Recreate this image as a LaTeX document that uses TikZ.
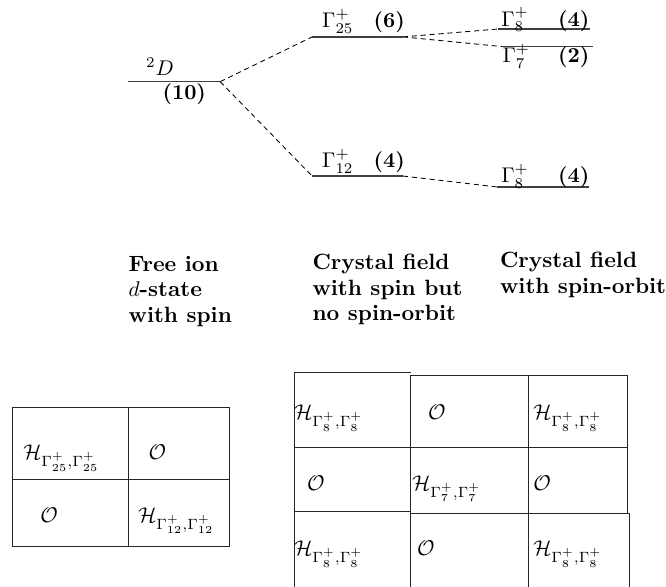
\documentclass[tikz,border=0pt]{standalone}
\usepackage{amsmath}
\usetikzlibrary{positioning}

\begin{document}
\begin{tikzpicture}[
      level/.style={black!75, semithick},
      split/.style={thin, dash pattern=on 2.4pt off 1.8pt},
      lbl/.style={anchor=base west, inner sep=0pt},
      title/.style={anchor=north west, inner sep=0pt, align=left,
         font=\fontsize{10.4}{12}\selectfont\bfseries},
      grid/.style={black!85, thin}]
            \useasboundingbox (0,0) rectangle (11.01,9.70);
            % Level end points
            \coordinate (D-l) at (2.12,8.35);   \coordinate (D-r) at (3.64,8.35);
            \coordinate (G25-l) at (5.16,9.09); \coordinate (G25-r) at (6.66,9.09);
            \coordinate (G12-l) at (5.16,6.79); \coordinate (G12-r) at (6.66,6.79);
            \coordinate (G8a-l) at (8.23,9.22); \coordinate (G8a-r) at (9.75,9.22);
            \coordinate (G7-l) at (8.30,8.93);  \coordinate (G7-r) at (9.80,8.93);
            \coordinate (G8b-l) at (8.21,6.61); \coordinate (G8b-r) at (9.74,6.61);
            % Levels
            \draw[level] (D-l) -- (D-r);
            \draw[level] (G25-l) -- (G25-r);
            \draw[level] (G12-l) -- (G12-r);
            \draw[level] (G8a-l) -- (G8a-r);
            \draw[level] (G7-l) -- (G7-r);
            \draw[level] (G8b-l) -- (G8b-r);
            % Splitting by the crystal field
            \draw[split] (D-r) -- (G25-l);
            \draw[split] (D-r) -- (G12-l);
            % Splitting by spin-orbit
            \draw[split] (G25-r) -- (G8a-l);
            \draw[split] (G25-r) -- (G7-l);
            \draw[split] (G12-r) -- (G8b-l);
            % Level labels
            \node[lbl] (D-name) at (2.41,8.45) {$^2D$};
            \node[lbl] (D-deg) at (2.68,8.05) {\textbf{(10)}};
            \node[lbl] (G25-name) at (5.32,9.24) {$\Gamma^+_{25}$};
            \node[lbl] (G25-deg) at (6.17,9.24) {\textbf{(6)}};
            \node[lbl] (G12-name) at (5.32,6.93) {$\Gamma^+_{12}$};
            \node[lbl] (G12-deg) at (6.17,6.93) {\textbf{(4)}};
            \node[lbl] (G8a-name) at (8.28,9.27) {$\Gamma^+_{8}$};
            \node[lbl] (G8a-deg) at (9.22,9.27) {\textbf{(4)}};
            \node[lbl] (G7-name) at (8.30,8.66) {$\Gamma^+_{7}$};
            \node[lbl] (G7-deg) at (9.22,8.66) {\textbf{(2)}};
            \node[lbl] (G8b-name) at (8.28,6.68) {$\Gamma^+_{8}$};
            \node[lbl] (G8b-deg) at (9.22,6.68) {\textbf{(4)}};
            % Column titles
            \node[title] (free) at (2.12,5.47) {Free ion\\$d$-state\\with spin};
            \node[title] (cf) at (5.16,5.50) {Crystal field\\with spin but\\no spin-orbit};
            \node[title] (cfso) at (8.26,5.54) {Crystal field\\with spin-orbit};
            % Matrix without spin-orbit
            \draw[grid] (0.20,0.66) rectangle (3.79,2.96);
            \draw[grid] (0.20,1.77) -- (3.79,1.77);
            \draw[grid] (2.12,0.66) -- (2.12,2.96);
            \node[lbl] (m11) at (0.38,2.10) {$\mathcal{H}_{\Gamma^+_{25},\Gamma^+_{25}}$};
            \node[lbl] (m12) at (2.45,2.10) {$\mathcal{O}$};
            \node[lbl] (m21) at (0.66,1.06) {$\mathcal{O}$};
            \node[lbl] (m22) at (2.28,1.06) {$\mathcal{H}_{\Gamma^+_{12},\Gamma^+_{12}}$};
            % Matrix with spin-orbit
            \draw[grid] (4.86,0) -- (4.86,3.54) -- (6.79,3.54);
            \draw[grid] (4.86,2.30) -- (6.79,2.30);
            \draw[grid] (4.86,1.24) -- (6.79,1.24);
            \draw[grid] (6.79,0) -- (6.79,3.50) -- (10.38,3.50) -- (10.38,1.22);
            \draw[grid] (10.40,1.22) -- (10.40,0);
            \draw[grid] (8.73,0) -- (8.73,3.50);
            \draw[grid] (6.79,2.30) -- (10.38,2.30);
            \draw[grid] (6.79,1.22) -- (10.40,1.22);
            \node[lbl] (s11) at (4.86,2.76) {$\mathcal{H}_{\Gamma^+_{8},\Gamma^+_{8}}$};
            \node[lbl] (s12) at (7.07,2.76) {$\mathcal{O}$};
            \node[lbl] (s13) at (8.81,2.76) {$\mathcal{H}_{\Gamma^+_{8},\Gamma^+_{8}}$};
            \node[lbl] (s21) at (5.07,1.59) {$\mathcal{O}$};
            \node[lbl] (s22) at (6.81,1.59) {$\mathcal{H}_{\Gamma^+_{7},\Gamma^+_{7}}$};
            \node[lbl] (s23) at (8.81,1.59) {$\mathcal{O}$};
            \node[lbl] (s31) at (4.86,0.51) {$\mathcal{H}_{\Gamma^+_{8},\Gamma^+_{8}}$};
            \node[lbl] (s32) at (6.89,0.51) {$\mathcal{O}$};
            \node[lbl] (s33) at (8.81,0.51) {$\mathcal{H}_{\Gamma^+_{8},\Gamma^+_{8}}$};
         \end{tikzpicture}
\end{document}
